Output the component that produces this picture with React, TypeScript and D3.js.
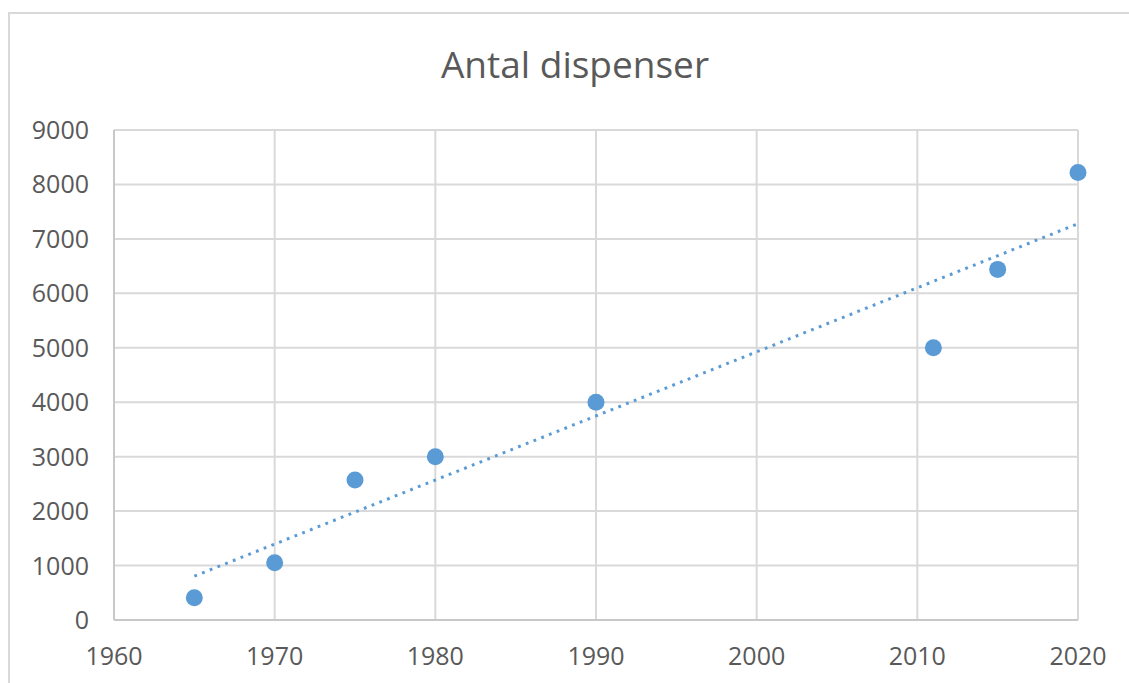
import React from "react";
import * as d3 from "d3";

const title = "Antal dispenser";
const years = [1965, 1970, 1975, 1980, 1990, 2011, 2015, 2020];
const counts = [410, 1050, 2570, 3000, 4000, 5000, 6440, 8220];
const xTicks = [1960, 1970, 1980, 1990, 2000, 2010, 2020];
const yTicks = [0, 1000, 2000, 3000, 4000, 5000, 6000, 7000, 8000, 9000];

const W = 1129;
const H = 683;
const plot = { left: 114, right: 1078, top: 130, bottom: 620 };
const gridColor = "#d9d9d9";
const textColor = "#595959";
const markerColor = "#5b9bd5";
const font = "'Open Sans', sans-serif";

export default function App() {
  const x = d3.scaleLinear().domain([1960, 2020]).range([plot.left, plot.right]);
  const y = d3.scaleLinear().domain([0, 9000]).range([plot.bottom, plot.top]);

  // linear least-squares trendline from the data
  const mx = d3.mean(years) as number;
  const my = d3.mean(counts) as number;
  let sxy = 0;
  let sxx = 0;
  years.forEach((yr, i) => {
    sxy += (yr - mx) * (counts[i] - my);
    sxx += (yr - mx) * (yr - mx);
  });
  const slope = sxy / sxx;
  const intercept = my - slope * mx;
  const x0 = d3.min(years) as number;
  const x1 = d3.max(years) as number;
  const trend: [number, number][] = [
    [x0, intercept + slope * x0],
    [x1, intercept + slope * x1],
  ];
  const line = d3
    .line<[number, number]>()
    .x((d) => x(d[0]))
    .y((d) => y(d[1]));

  return (
    <svg
      width={W}
      height={H}
      style={{ position: "absolute", left: 0, top: 0, background: "#fff", display: "block" }}
    >
      <rect x={0} y={0} width={W} height={H} fill="#fff" />
      <rect x={9} y={13} width={W + 20} height={H + 20} fill="#fff" stroke={gridColor} strokeWidth={2} />
      <text
        x={575}
        y={78}
        textAnchor="middle"
        fontFamily={font}
        fontSize={37}
        fill={textColor}
      >
        {title}
      </text>
      {yTicks.map((t) => (
        <line
          key={"gy" + t}
          x1={plot.left}
          x2={plot.right}
          y1={y(t)}
          y2={y(t)}
          stroke={gridColor}
          strokeWidth={2}
        />
      ))}
      {xTicks.map((t) => (
        <line
          key={"gx" + t}
          x1={x(t)}
          x2={x(t)}
          y1={plot.top}
          y2={plot.bottom}
          stroke={gridColor}
          strokeWidth={2}
        />
      ))}
      <line x1={plot.left} x2={plot.right} y1={plot.bottom} y2={plot.bottom} stroke="#c8c8c8" strokeWidth={2} />
      <line x1={plot.left} x2={plot.left} y1={plot.top} y2={plot.bottom} stroke="#c8c8c8" strokeWidth={2} />
      {yTicks.map((t) => (
        <text
          key={"ly" + t}
          x={89}
          y={y(t) + 9}
          textAnchor="end"
          fontFamily={font}
          fontSize={25}
          fill={textColor}
        >
          {t}
        </text>
      ))}
      {xTicks.map((t) => (
        <text
          key={"lx" + t}
          x={x(t)}
          y={665}
          textAnchor="middle"
          fontFamily={font}
          fontSize={25}
          fill={textColor}
        >
          {t}
        </text>
      ))}
      <path
        d={line(trend) || ""}
        fill="none"
        stroke={markerColor}
        strokeWidth={3}
        strokeDasharray="2.8 5.5"
      />
      {years.map((yr, i) => (
        <circle key={"p" + yr} cx={x(yr)} cy={y(counts[i])} r={8.5} fill={markerColor} />
      ))}
    </svg>
  );
}
